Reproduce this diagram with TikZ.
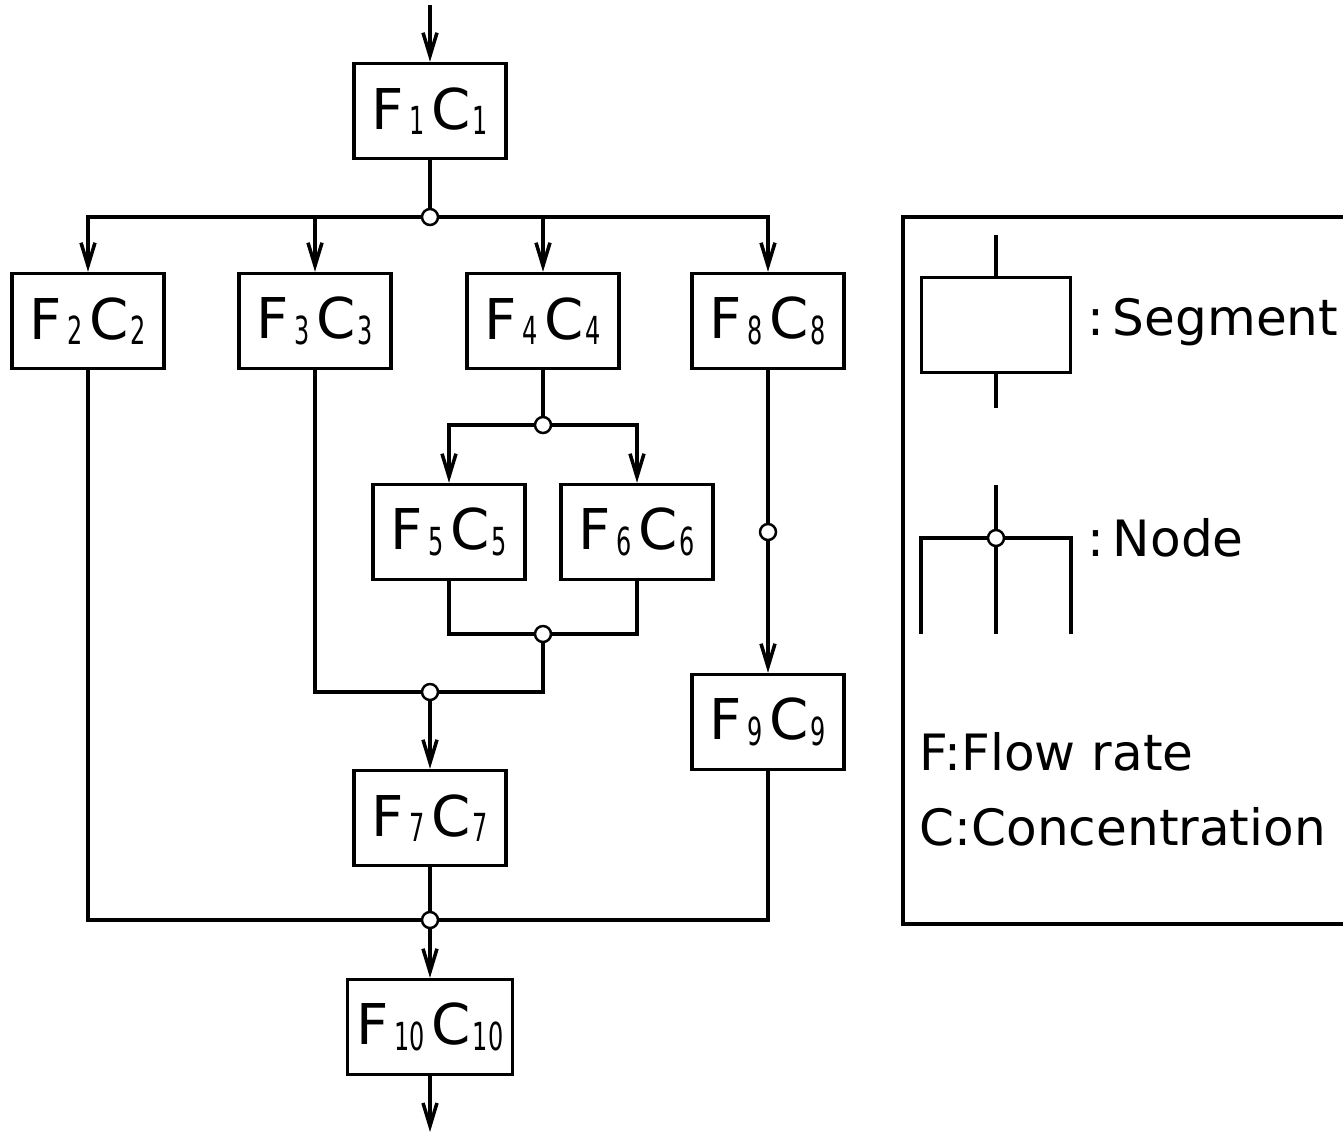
\documentclass[tikz,border=0pt]{standalone}
\usepackage{fontspec}
\setmainfont{DejaVu Sans}
\usepackage{graphicx}
\usetikzlibrary{arrows.meta}

% narrow subscript digits as in the drawing
\newcommand{\subdig}[1]{\raisebox{-3pt}{\fontsize{22}{22}\selectfont\scalebox{0.62}[1]{#1}}}
\newcommand{\FC}[1]{F\kern3pt\subdig{#1}\kern4pt C\kern1pt\subdig{#1}}

\begin{document}
\begin{tikzpicture}[
        x=0.02cm, y=-0.02cm,
        >={Straight Barb[length=0.46cm, width=0.28cm]},
        line width=2pt,
        segbox/.style={rectangle, draw, fill=white, minimum width=3.04cm, minimum height=1.9cm, inner sep=0pt, font=\fontsize{32}{36}\selectfont},
        junc/.style={circle, draw, fill=white, inner sep=0pt, minimum size=0.32cm, line width=1.4pt},
        legtext/.style={anchor=west, inner sep=0pt, font=\fontsize{28.5}{34}\selectfont}
    ]
        \useasboundingbox (0,0) rectangle (1343,1136);

        % ================= SEGMENTS =================
        \node[segbox] (s1) at (430,111) {\FC{1}};
        \node[segbox] (s2) at (88,321) {\FC{2}};
        \node[segbox] (s3) at (315,321) {\FC{3}};
        \node[segbox] (s4) at (543,321) {\FC{4}};
        \node[segbox] (s8) at (768,321) {\FC{8}};
        \node[segbox] (s5) at (449,532) {\FC{5}};
        \node[segbox] (s6) at (637,532) {\FC{6}};
        \node[segbox] (s7) at (430,818) {\FC{7}};
        \node[segbox] (s9) at (768,722) {\FC{9}};
        \node[segbox, minimum width=3.3cm] (s10) at (430,1027) {\FC{10}};

        % ================= NODES =================
        \node[junc] (n1) at (430,217) {};
        \node[junc] (n2) at (543,425) {};
        \node[junc] (n3) at (543,634) {};
        \node[junc] (n4) at (430,692) {};
        \node[junc] (n5) at (768,532) {};
        \node[junc] (n6) at (430,920) {};

        \coordinate (in) at (430,5);
        \coordinate (out) at (430,1132);

        % Conexiones
        \draw[->] (in) -- (s1);
        \draw (s1) -- (n1);
        \draw[->] (n1) -| (s2);
        \draw[->] (n1) -| (s3);
        \draw[->] (n1) -| (s4);
        \draw[->] (n1) -| (s8);
        \draw (s4) -- (n2);
        \draw[->] (n2) -| (s5);
        \draw[->] (n2) -| (s6);
        \draw (s5) |- (n3);
        \draw (s6) |- (n3);
        \draw (n3) |- (n4);
        \draw (s3) |- (n4);
        \draw[->] (n4) -- (s7);
        \draw (s8) -- (n5);
        \draw[->] (n5) -- (s9);
        \draw (s2) |- (n6);
        \draw (s9) |- (n6);
        \draw (s7) -- (n6);
        \draw[->] (n6) -- (s10);
        \draw[->] (s10) -- (out);

        % ================= LEGEND =================
        \draw (1350,217) -- (903,217) -- (903,924) -- (1350,924);

        \node[segbox, minimum width=2.98cm] (lseg) at (996,325) {};
        \coordinate (lsegt) at (996,235);
        \coordinate (lsegb) at (996,408);
        \draw (lsegt) -- (lseg);
        \draw (lseg) -- (lsegb);
        \node[legtext] (tseg) at (1086,322) {:\,Segment};

        \node[junc] (lnode) at (996,538) {};
        \coordinate (lnt) at (996,485);
        \coordinate (lnb) at (996,634);
        \coordinate (lnl) at (921,634);
        \coordinate (lnr) at (1071,634);
        \draw (lnt) -- (lnode);
        \draw (lnode) -- (lnb);
        \draw (lnode) -| (lnl);
        \draw (lnode) -| (lnr);
        \node[legtext] (tnode) at (1086,538) {:\,Node};

        \node[legtext] (tf) at (918,752) {F:Flow rate};
        \node[legtext] (tc) at (918,827) {C:Concentration};

    \end{tikzpicture}
\end{document}
